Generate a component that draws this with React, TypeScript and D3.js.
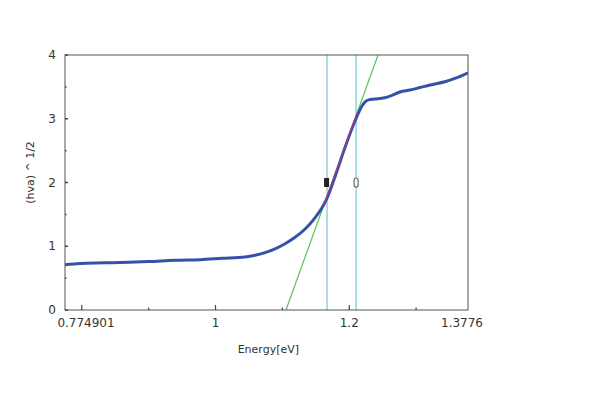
import { useRef, useEffect } from 'react';
import * as d3 from 'd3';

// Measured curve (photon energy vs (hva)^1/2)
const energy = [0.7749, 0.797, 0.834, 0.87, 0.9, 0.94, 0.977, 1.01, 1.044, 1.059, 1.074, 1.089, 1.104, 1.119, 1.134, 1.149, 1.159, 1.167, 1.179, 1.194, 1.21, 1.219, 1.224, 1.23, 1.238, 1.253, 1.262, 1.276, 1.291, 1.306, 1.321, 1.343, 1.36, 1.3776];
const value = [0.71, 0.73, 0.74, 0.75, 0.76, 0.78, 0.79, 0.81, 0.83, 0.86, 0.9, 0.96, 1.04, 1.14, 1.27, 1.45, 1.6, 1.76, 2.1, 2.56, 3.0, 3.2, 3.27, 3.3, 3.31, 3.33, 3.36, 3.42, 3.45, 3.49, 3.53, 3.58, 3.64, 3.72];

// Linear fit (tangent) endpoints
const fitE = [1.1054, 1.243];
const fitY = [0, 4];
// Fit range highlighted on the data
const fitRangeE = [1.162, 1.212];

// Cursors
const cursorE = [1.1668, 1.2103];
const cursorMarkY = 2;

const xMajor = [0.8, 1.0, 1.2];
const xMinor = [0.9, 1.1, 1.3];
const xLabels = [
  { v: 0.774901, text: '0.774901', dx: 21 },
  { v: 1.0, text: '1', dx: 0 },
  { v: 1.2, text: '1.2', dx: 0 },
  { v: 1.3776, text: '1.3776', dx: -6 },
];
const yMajor = [0, 1, 2, 3, 4];
const yMinor = [0.5, 1.5, 2.5, 3.5];

export default function App() {
  const ref = useRef<SVGSVGElement>(null);

  useEffect(() => {
    if (!ref.current) return;
    const svg = d3.select(ref.current);
    svg.selectAll('*').remove();

    const width = 600;
    const height = 400;
    const margin = { top: 55, right: 132, bottom: 90, left: 65 };
    const iw = width - margin.left - margin.right;
    const ih = height - margin.top - margin.bottom;
    const font = '"DejaVu Sans", "Noto Sans", sans-serif';

    const g = svg.append('g').attr('transform', `translate(${margin.left},${margin.top})`);

    const x = d3.scaleLinear().domain([0.774901, 1.3776]).range([0, iw]);
    const y = d3.scaleLinear().domain([0, 4]).range([ih, 0]);

    g.append('clipPath').attr('id', 'plot-clip')
      .append('rect').attr('width', iw).attr('height', ih);

    const plot = g.append('g').attr('clip-path', 'url(#plot-clip)');

    // cursors
    plot.selectAll('.cursor')
      .data(cursorE)
      .enter()
      .append('line')
      .attr('x1', d => x(d)).attr('x2', d => x(d))
      .attr('y1', 0).attr('y2', ih)
      .attr('stroke', '#8fd3dc')
      .attr('stroke-width', 1.5);

    // fit line
    plot.append('line')
      .attr('x1', x(fitE[0])).attr('y1', y(fitY[0]))
      .attr('x2', x(fitE[1])).attr('y2', y(fitY[1]))
      .attr('stroke', '#5cbf5c')
      .attr('stroke-width', 1.2);

    // data curve
    const pts = energy.map((e, i) => [e, value[i]] as [number, number]);
    const line = d3.line<[number, number]>()
      .x(d => x(d[0]))
      .y(d => y(d[1]))
      .curve(d3.curveMonotoneX);

    plot.append('path')
      .attr('d', line(pts))
      .attr('fill', 'none')
      .attr('stroke', '#2443a4')
      .attr('stroke-width', 3)
      .attr('stroke-opacity', 0.92);

    // fitted range overlay
    const slope = (fitY[1] - fitY[0]) / (fitE[1] - fitE[0]);
    const fy = (e: number) => fitY[0] + slope * (e - fitE[0]);
    plot.append('line')
      .attr('x1', x(fitRangeE[0])).attr('y1', y(fy(fitRangeE[0])))
      .attr('x2', x(fitRangeE[1])).attr('y2', y(fy(fitRangeE[1])))
      .attr('stroke', '#d0307a')
      .attr('stroke-width', 1);

    // cursor markers
    g.append('rect')
      .attr('x', x(cursorE[0]) - 3).attr('y', y(cursorMarkY) - 4.5)
      .attr('width', 5).attr('height', 9)
      .attr('fill', '#222');
    g.append('rect')
      .attr('x', x(cursorE[1]) - 2).attr('y', y(cursorMarkY) - 4.5)
      .attr('width', 4).attr('height', 9)
      .attr('rx', 2)
      .attr('fill', '#fff')
      .attr('stroke', '#666')
      .attr('stroke-width', 1.2);

    // frame
    g.append('rect')
      .attr('width', iw).attr('height', ih)
      .attr('fill', 'none')
      .attr('stroke', '#555')
      .attr('stroke-width', 1);

    // x ticks
    g.selectAll('.xmaj')
      .data(xMajor)
      .enter()
      .append('line')
      .attr('x1', d => x(d)).attr('x2', d => x(d))
      .attr('y1', ih).attr('y2', ih - 5)
      .attr('stroke', '#444').attr('stroke-width', 1.2);
    g.selectAll('.xmin')
      .data(xMinor)
      .enter()
      .append('line')
      .attr('x1', d => x(d)).attr('x2', d => x(d))
      .attr('y1', ih).attr('y2', ih - 2.5)
      .attr('stroke', '#444').attr('stroke-width', 1.2);

    g.selectAll('.xlab')
      .data(xLabels)
      .enter()
      .append('text')
      .attr('x', d => x(d.v) + d.dx)
      .attr('y', ih + 17)
      .attr('text-anchor', 'middle')
      .attr('font-family', font)
      .attr('font-size', '12px')
      .attr('fill', '#333')
      .text(d => d.text);

    // y ticks
    g.selectAll('.ymaj')
      .data(yMajor)
      .enter()
      .append('line')
      .attr('x1', 0).attr('x2', 3)
      .attr('y1', d => y(d)).attr('y2', d => y(d))
      .attr('stroke', '#444').attr('stroke-width', 1.5);
    g.selectAll('.ymin')
      .data(yMinor)
      .enter()
      .append('line')
      .attr('x1', 0).attr('x2', 1.5)
      .attr('y1', d => y(d)).attr('y2', d => y(d))
      .attr('stroke', '#444').attr('stroke-width', 1.5);

    g.selectAll('.ylab')
      .data(yMajor)
      .enter()
      .append('text')
      .attr('x', -9)
      .attr('y', d => y(d))
      .attr('dy', '0.35em')
      .attr('text-anchor', 'end')
      .attr('font-family', font)
      .attr('font-size', '12px')
      .attr('fill', '#333')
      .text(d => String(d));

    // axis titles
    g.append('text')
      .attr('x', x(1.1) - 14)
      .attr('y', ih + 43)
      .attr('text-anchor', 'middle')
      .attr('font-family', font)
      .attr('font-size', '11px')
      .attr('fill', '#333')
      .text('Energy[eV]');

    g.append('text')
      .attr('transform', `translate(${-31},${ih / 2 - 10}) rotate(-90)`)
      .attr('text-anchor', 'middle')
      .attr('font-family', font)
      .attr('font-size', '11px')
      .attr('fill', '#333')
      .text('(hva) ^ 1/2');
  }, []);

  return (
    <svg ref={ref} width={600} height={400}
      style={{ position: 'absolute', left: 0, top: 0, background: '#fff' }} />
  );
}
